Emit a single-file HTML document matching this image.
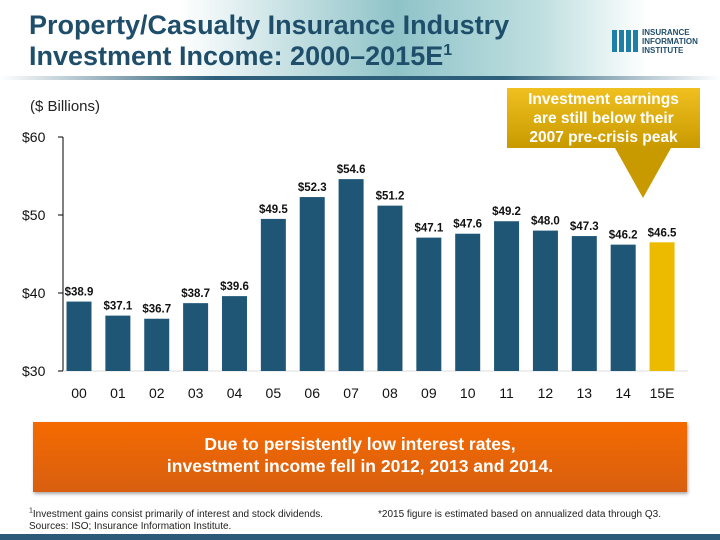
<!DOCTYPE html>
<html><head><meta charset="utf-8"><style>
body{margin:0;width:720px;height:540px;overflow:hidden;background:#fff;font-family:"Liberation Sans",sans-serif;position:relative}
.abs{position:absolute}
sup{line-height:0}
</style></head><body>
<div class="abs" style="left:0;top:0;width:720px;height:76px;background:linear-gradient(90deg,#fff 0%,#fff 25%,#8fc3c8 55%,#bfdfe0 75%,#fff 90%)"></div>
<div class="abs" style="left:0;top:76px;width:720px;height:4px;background:linear-gradient(90deg,#fff,#2d5f7a 30%,#2d5f7a 70%,#fff)"></div>
<div class="abs" style="left:29px;top:10px;font-size:27px;font-weight:bold;color:#1f4e6b;line-height:31px">Property/Casualty Insurance Industry<br>Investment Income: 2000–2015E<sup style="font-size:16px">1</sup></div>
<div class="abs" style="left:612px;top:28px;width:95px;height:26px">
<div class="abs" style="left:0;top:2px;width:26px;height:22px;background:repeating-linear-gradient(90deg,#1e7fa8 0 5px,#fff 5px 7px)"></div>
<div class="abs" style="left:30px;top:0;font-size:8px;font-weight:bold;color:#1f4e6b;line-height:9px">INSURANCE<br>INFORMATION<br>INSTITUTE</div></div>
<div class="abs" style="left:30px;top:98px;font-size:15px;color:#222">($ Billions)</div>
<svg class="abs" style="left:0;top:0" width="720" height="540" id="chart"></svg>
<div class="abs" style="left:507px;top:88px;width:193px;height:60px;background:linear-gradient(#f0c020,#c99a00);color:#fff;font-weight:bold;font-size:15.5px;text-align:center;line-height:19px;padding-top:2px;box-sizing:border-box">Investment earnings<br>are still below their<br>2007 pre-crisis peak</div>
<div class="abs" style="left:615px;top:148px;width:0;height:0;border-left:28px solid transparent;border-right:28px solid transparent;border-top:50px solid #c99a00"></div>
<div class="abs" style="left:33px;top:422px;width:654px;height:70px;background:linear-gradient(#f56a00,#d85f10);color:#fff;font-weight:bold;font-size:17.5px;text-align:center;line-height:22px;padding-top:11px;box-sizing:border-box;box-shadow:1px 2px 3px #aaa">Due to persistently low interest rates,<br>investment income fell in 2012, 2013 and 2014.</div>
<div class="abs" style="left:29px;top:509px;font-size:10px;color:#222;line-height:12px"><sup style="font-size:7px">1</sup>Investment gains consist primarily of interest and stock dividends.<br>Sources: ISO; Insurance Information Institute.</div>
<div class="abs" style="left:378px;top:509px;font-size:10px;color:#222">*2015 figure is estimated based on annualized data through Q3.</div>
<div class="abs" style="left:0;top:534px;width:720px;height:6px;background:#2d5a78"></div>
<script>
const categories=["00","01","02","03","04","05","06","07","08","09","10","11","12","13","14","15E"];
const values=[38.9,37.1,36.7,38.7,39.6,49.5,52.3,54.6,51.2,47.1,47.6,49.2,48.0,47.3,46.2,46.5];
const yTicks=[30,40,50,60];
const NS="http://www.w3.org/2000/svg",svg=document.getElementById('chart');
const y=v=>371-(v-30)*7.8, x=i=>79+i*38.87;
function mk(t,a){const e=document.createElementNS(NS,t);for(const k in a)e.setAttribute(k,a[k]);svg.appendChild(e);return e;}
const ax=mk('line',{x1:63,y1:137,x2:63,y2:371,stroke:'#000'});


yTicks.forEach(t=>{const l=mk('line',{x1:58,x2:63,y1:y(t),y2:y(t),stroke:'#000'});


const tx=mk('text',{x:22,y:y(t)+5,'font-size':14,fill:'#111'});tx.textContent='$'+t;

});
const bx=mk('line',{x1:63,y1:371,x2:688,y2:371,stroke:'#ddd'});


values.forEach((v,i)=>{const r=mk('rect',{x:x(i)-12.5,y:y(v),width:25,height:371-y(v),fill:i==15?'#ecbb00':'#1f5676'});


const t=mk('text',{x:x(i),y:y(v)-6,'font-size':11.5,'font-weight':'bold','text-anchor':'middle',fill:'#111'});t.textContent='$'+v.toFixed(1);


const c=mk('text',{x:x(i),y:398,'font-size':14,'text-anchor':'middle',fill:'#111'});c.textContent=categories[i];

});
</script>
</body></html>
